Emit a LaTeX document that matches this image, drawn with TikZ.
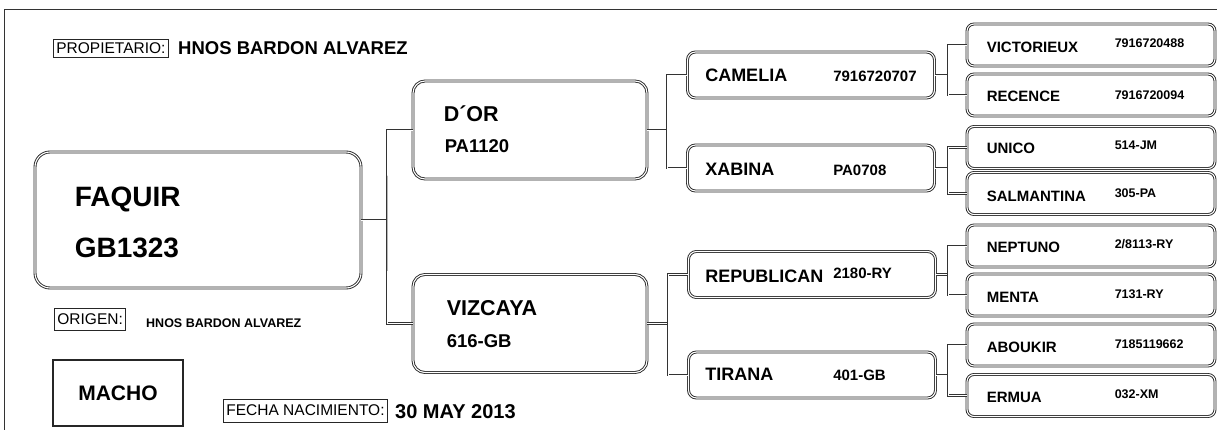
\documentclass[tikz,border=0pt]{standalone}
\usepackage{fontspec}
\setmainfont{Liberation Sans}
\usetikzlibrary{positioning}
\tikzset{horse/.style={draw=black!85,double=white,double distance=1.1pt,line width=0.9pt,inner sep=0pt}}
\tikzset{sire/.style={horse,rounded corners=15pt,minimum width=326pt,minimum height=136pt}}
\tikzset{parent/.style={horse,rounded corners=12pt,minimum width=234pt,minimum height=98pt}}
\tikzset{grand/.style={horse,rounded corners=8pt,minimum width=247pt,minimum height=46pt}}
\tikzset{great/.style={horse,rounded corners=7pt,minimum width=248pt,minimum height=42pt}}
\tikzset{link/.style={draw=black!80,double=white,double distance=0.9pt,line width=0.8pt}}
\tikzset{caption/.style={draw=black!85,line width=0.8pt,inner xsep=3pt,inner ysep=0pt,text height=11.5pt,text depth=1pt,font=\fontsize{15.5}{16}\selectfont,anchor=west}}
\tikzset{txt/.style={inner sep=0pt,anchor=base west}}
\tikzset{bigname/.style={txt,font=\fontsize{28}{30}\selectfont\bfseries}}
\tikzset{midname/.style={txt,font=\fontsize{21.5}{24}\selectfont\bfseries}}
\tikzset{midid/.style={txt,font=\fontsize{18.5}{20}\selectfont\bfseries}}
\tikzset{smallname/.style={txt,font=\fontsize{18}{20}\selectfont\bfseries}}
\tikzset{smallid/.style={txt,font=\fontsize{15}{17}\selectfont\bfseries}}
\tikzset{tinyname/.style={txt,font=\fontsize{15}{17}\selectfont\bfseries}}
\tikzset{tinyid/.style={txt,font=\fontsize{12.5}{14}\selectfont\bfseries}}
\begin{document}
\begin{tikzpicture}[x=1pt,y=-1pt]
    \useasboundingbox (0,0) rectangle (1217,430);
    % outer frame
    \draw[link,line width=0.9pt] (5,435) -- (5,10) -- (1222,10);

    % header and footer texts
    \node[caption,minimum height=18pt] (prop) at (53,48) {PROPIETARIO:};
    \node[txt,font=\fontsize{18.5}{20}\selectfont\bfseries] (owner) at (178,55) {HNOS BARDON ALVAREZ};
    \node[caption,minimum height=22pt] (orig) at (54,319) {ORIGEN:};
    \node[txt,font=\fontsize{12.5}{14}\selectfont\bfseries] (breeder) at (146,327) {HNOS BARDON ALVAREZ};
    \node[draw=black!85,line width=1.8pt,minimum width=130pt,minimum height=66pt,font=\fontsize{21}{24}\selectfont\bfseries] (sex) at (118,393) {MACHO};
    \node[caption,minimum height=23pt] (born) at (223,410.5) {FECHA NACIMIENTO:};
    \node[txt,font=\fontsize{20}{22}\selectfont\bfseries] (date) at (395,418) {30 MAY 2013};

    % the horse
    \node[sire] (faquir) at (198,220) {};
        \node[bigname] (faquirname) at ([xshift=40pt,yshift=13pt]faquir.west) {FAQUIR};
        \node[bigname] (faquirid) at ([xshift=40pt,yshift=-38pt]faquir.west) {GB1323};

    % parents
    \node[parent] (dor) at (530,130) {};
        \node[midname] (dorname) at ([xshift=31pt,yshift=8pt]dor.west) {D´OR};
        \node[midid] (dorid) at ([xshift=32pt,yshift=-23pt]dor.west) {PA1120};
    \node[parent] (vizcaya) at (530,323.5) {};
        \node[midname] (vizcayaname) at ([xshift=34pt,yshift=8.5pt]vizcaya.west) {VIZCAYA};
        \node[midid] (vizcayaid) at ([xshift=34pt,yshift=-23.5pt]vizcaya.west) {616-GB};
    \coordinate (f1) at (387,220);
        \path[link] (faquir.east) -- (f1);
        \path[link] (dor.west) -| (f1) |- (vizcaya.west);

    % grandparents
    \node[grand] (camelia) at (811,75) {};
        \node[smallname] (cameliana) at ([xshift=18pt,yshift=-7pt]camelia.west) {CAMELIA};
        \node[smallid] (cameliaid) at ([xshift=146pt,yshift=-7pt]camelia.west) {7916720707};
    \node[grand] (xabina) at (811,168) {};
        \node[smallname] (xabinana) at ([xshift=18pt,yshift=-8pt]xabina.west) {XABINA};
        \node[smallid] (xabinaid) at ([xshift=146pt,yshift=-8pt]xabina.west) {PA0708};
    \node[grand] (republican) at (812,274.5) {};
        \node[smallname] (republicanna) at ([xshift=17pt,yshift=-7.5pt]republican.west) {REPUBLICAN};
        \node[smallid] (republicanid) at ([xshift=145pt,yshift=-3.5pt]republican.west) {2180-RY};
    \node[grand] (tirana) at (812,375) {};
        \node[smallname] (tiranana) at ([xshift=17pt,yshift=-5pt]tirana.west) {TIRANA};
        \node[smallid] (tiranaid) at ([xshift=145pt,yshift=-5pt]tirana.west) {401-GB};
    \coordinate (f2) at (667,130);
        \path[link] (dor.east) -- (f2);
        \path[link] (camelia.west) -| (f2) |- (xabina.west);
    \coordinate (f3) at (668,323.5);
        \path[link] (vizcaya.east) -- (f3);
        \path[link] (republican.west) -| (f3) |- (tirana.west);

    % great-grandparents
    \node[great] (victorieux) at (1091,45) {};
        \node[tinyname] (victorieuxna) at ([xshift=20pt,yshift=-7.5pt]victorieux.west) {VICTORIEUX};
        \node[tinyid] (victorieuxid) at ([xshift=148pt,yshift=-3pt]victorieux.west) {7916720488};
    \node[great] (recence) at (1091,95) {};
        \node[tinyname] (recencena) at ([xshift=20pt,yshift=-7pt]recence.west) {RECENCE};
        \node[tinyid] (recenceid) at ([xshift=148pt,yshift=-5pt]recence.west) {7916720094};
    \node[great] (unico) at (1091,147.5) {};
        \node[tinyname] (unicona) at ([xshift=20pt,yshift=-6pt]unico.west) {UNICO};
        \node[tinyid] (unicoid) at ([xshift=148pt,yshift=-2pt]unico.west) {514-JM};
    \node[great] (salmantina) at (1091,193.5) {};
        \node[tinyname] (salmantinana) at ([xshift=20pt,yshift=-8.5pt]salmantina.west) {SALMANTINA};
        \node[tinyid] (salmantinaid) at ([xshift=148pt,yshift=-4.5pt]salmantina.west) {305-PA};
    \node[great] (neptuno) at (1091,246) {};
        \node[tinyname] (neptunona) at ([xshift=20pt,yshift=-6pt]neptuno.west) {NEPTUNO};
        \node[tinyid] (neptunoid) at ([xshift=148pt,yshift=-2pt]neptuno.west) {2/8113-RY};
    \node[great] (menta) at (1091,295) {};
        \node[tinyname] (mentana) at ([xshift=20pt,yshift=-7pt]menta.west) {MENTA};
        \node[tinyid] (mentaid) at ([xshift=148pt,yshift=-3pt]menta.west) {7131-RY};
    \node[great] (aboukir) at (1091,345) {};
        \node[tinyname] (aboukirna) at ([xshift=20pt,yshift=-7pt]aboukir.west) {ABOUKIR};
        \node[tinyid] (aboukirid) at ([xshift=148pt,yshift=-3pt]aboukir.west) {7185119662};
    \node[great] (ermua) at (1091,395.5) {};
        \node[tinyname] (ermuana) at ([xshift=20pt,yshift=-7pt]ermua.west) {ERMUA};
        \node[tinyid] (ermuaid) at ([xshift=148pt,yshift=-3pt]ermua.west) {032-XM};
    \coordinate (f4) at (948,75);
        \path[link] (camelia.east) -- (f4);
        \path[link] (victorieux.west) -| (f4) |- (recence.west);
    \coordinate (f5) at (948,168);
        \path[link] (xabina.east) -- (f5);
        \path[link] (unico.west) -| (f5) |- (salmantina.west);
    \coordinate (f6) at (948,274.5);
        \path[link] (republican.east) -- (f6);
        \path[link] (neptuno.west) -| (f6) |- (menta.west);
    \coordinate (f7) at (948,375);
        \path[link] (tirana.east) -- (f7);
        \path[link] (aboukir.west) -| (f7) |- (ermua.west);
\end{tikzpicture}
\end{document}
